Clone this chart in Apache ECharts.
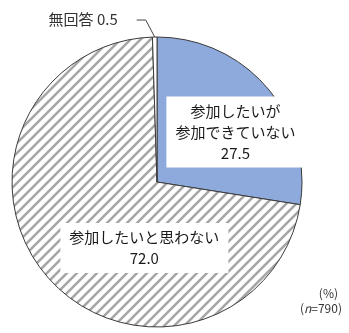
<!DOCTYPE html>
<html>
<head>
<meta charset="utf-8">
<script src="https://cdn.jsdelivr.net/npm/echarts@6/dist/echarts.min.js"></script>
<style>
  html, body { margin: 0; padding: 0; background: #fff; }
  #chart { width: 349px; height: 333px; }
</style>
</head>
<body>
<div id="chart"></div>
<script>
// Survey answers (%), clockwise from 12 o'clock
const categories = ['参加したいが\n参加できていない', '参加したいと思わない', '無回答'];
const values = [27.5, 72.0, 0.5];
const unitNote = '(%)';
const sampleSize = 790;

const FONT = '"Noto Sans CJK JP", "Noto Sans", sans-serif';

// diagonal hatch tile for the "not interested" slice
function hatchTile() {
  const c = document.createElement('canvas');
  c.width = 10; c.height = 10;
  const g = c.getContext('2d');
  g.fillStyle = '#ffffff';
  g.fillRect(0, 0, 10, 10);
  g.strokeStyle = '#a6a6a6';
  g.lineWidth = 2.6;
  g.beginPath();
  g.moveTo(-5, 5); g.lineTo(5, -5);
  g.moveTo(0, 10); g.lineTo(10, 0);
  g.moveTo(5, 15); g.lineTo(15, 5);
  g.stroke();
  return c;
}

const fills = ['#8eaadc', { image: hatchTile(), repeat: 'repeat' }, '#ffffff'];

const insideLabel = {
  show: true,
  position: 'inside',
  formatter: p => p.name + '\n' + p.value.toFixed(1),
  color: '#1a1a1a',
  fontFamily: FONT,
  fontSize: 15,
  lineHeight: 21,
  backgroundColor: '#ffffff',
  padding: [4, 9]
};

const data = categories.map((name, i) => {
  const item = { name, value: values[i], itemStyle: { color: fills[i] } };
  if (i < 2) {
    item.label = insideLabel;
    item.labelLine = { show: false };
  } else {
    item.label = {
      show: true,
      position: 'outside',
      formatter: p => p.name + ' ' + p.value.toFixed(1),
      color: '#333',
      fontFamily: FONT,
      fontSize: 15
    };
    item.labelLine = { show: true, length: 10, length2: 10, lineStyle: { color: '#444', width: 1 } };
  }
  return item;
});

const chart = echarts.init(document.getElementById('chart'), null, { renderer: 'canvas' });
chart.setOption({
  animation: false,
  backgroundColor: '#ffffff',
  title: [
    {
      text: unitNote,
      right: 6, top: 282,
      textStyle: { fontFamily: FONT, fontSize: 12, fontWeight: 'normal', color: '#333' }
    },
    {
      text: '({n|n}=' + sampleSize + ')',
      right: 2, top: 297,
      textStyle: {
        fontFamily: FONT, fontSize: 12, fontWeight: 'normal', color: '#333',
        rich: { n: { fontFamily: FONT, fontSize: 12, fontStyle: 'italic', color: '#333' } }
      }
    }
  ],
  series: [{
    type: 'pie',
    center: [157, 182],
    radius: 145,
    startAngle: 90,
    clockwise: true,
    avoidLabelOverlap: false,
    itemStyle: { borderColor: '#3a3a3a', borderWidth: 1 },
    emphasis: { disabled: true },
    data,
    labelLayout: function (p) {
      if (p.dataIndex === 0) return { dx: 21, dy: -1 };
      if (p.dataIndex === 1) return { dx: 44, dy: 16 };
      const a = p.labelLinePoints ? p.labelLinePoints[0] : [p.rect.x, p.rect.y];
      return {
        x: a[0] - 37,
        y: a[1] - 18,
        align: 'right',
        verticalAlign: 'middle',
        labelLinePoints: [a, [a[0] - 9, a[1] - 17], [a[0] - 18, a[1] - 17]]
      };
    }
  }]
});
</script>
</body>
</html>
